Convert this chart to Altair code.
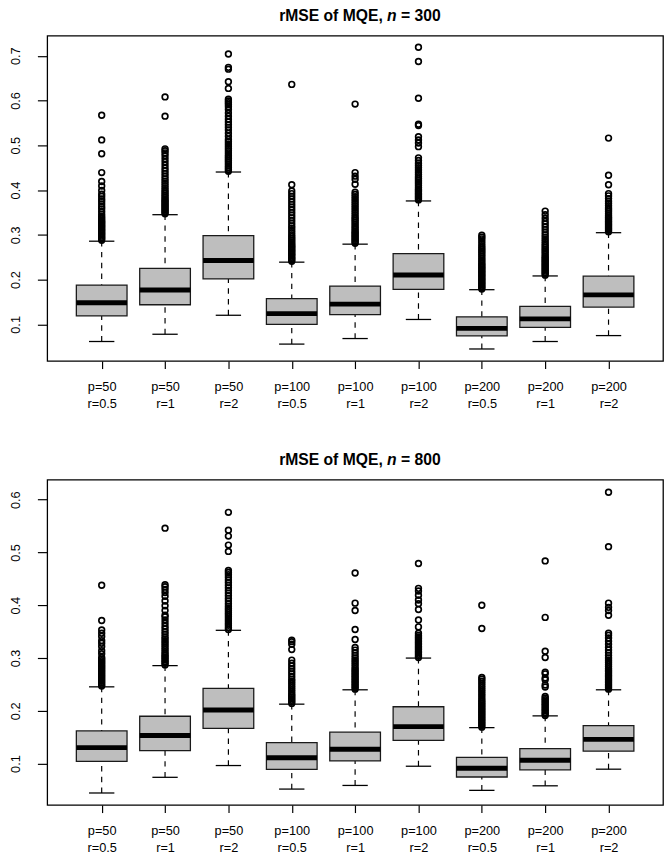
import altair as alt
import pandas as pd

# ---------------- data ----------------
positions = [1, 2, 3, 4, 5, 6, 7, 8, 9]
p_labels = ["p=50", "p=50", "p=50", "p=100", "p=100", "p=100", "p=200", "p=200", "p=200"]
r_labels = ["r=0.5", "r=1", "r=2", "r=0.5", "r=1", "r=2", "r=0.5", "r=1", "r=2"]

# n = 300 panel: whisker low, Q1, median, Q3, whisker high
n300_lo = [0.0618, 0.0780, 0.1204, 0.0560, 0.0684, 0.1110, 0.0451, 0.0618, 0.0750]
n300_q1 = [0.1189, 0.1439, 0.2016, 0.1000, 0.1220, 0.1782, 0.0743, 0.0934, 0.1387]
n300_med = [0.1483, 0.1768, 0.2427, 0.1241, 0.1453, 0.2104, 0.0912, 0.1123, 0.1659]
n300_q3 = [0.1878, 0.2251, 0.2982, 0.1577, 0.1856, 0.2580, 0.1168, 0.1402, 0.2076]
n300_hi = [0.2858, 0.3450, 0.4403, 0.2390, 0.2792, 0.3757, 0.1775, 0.2082, 0.3048]
n300_out = [
    [0.288, 0.291, 0.294, 0.297, 0.300, 0.303, 0.306, 0.309, 0.312, 0.315, 0.318, 0.321, 0.324,
     0.327, 0.330, 0.333, 0.337, 0.341, 0.346, 0.352, 0.358, 0.363, 0.369, 0.375, 0.380, 0.386,
     0.391, 0.399, 0.409, 0.419, 0.439, 0.481, 0.512, 0.567],
    [0.347, 0.350, 0.353, 0.356, 0.359, 0.362, 0.365, 0.368, 0.371, 0.374, 0.377, 0.380, 0.384,
     0.388, 0.392, 0.396, 0.400, 0.405, 0.410, 0.415, 0.420, 0.425, 0.431, 0.437, 0.443, 0.449,
     0.456, 0.463, 0.470, 0.477, 0.483, 0.488, 0.492, 0.565, 0.608],
    [0.442, 0.446, 0.450, 0.454, 0.458, 0.462, 0.466, 0.470, 0.474, 0.478, 0.483, 0.488, 0.493,
     0.498, 0.503, 0.508, 0.513, 0.520, 0.527, 0.534, 0.540, 0.546, 0.552, 0.558, 0.565, 0.572,
     0.580, 0.586, 0.591, 0.595, 0.599, 0.603, 0.627, 0.642, 0.670, 0.674, 0.704],
    [0.241, 0.244, 0.247, 0.250, 0.253, 0.256, 0.259, 0.262, 0.265, 0.268, 0.271, 0.274, 0.277,
     0.280, 0.284, 0.288, 0.292, 0.296, 0.300, 0.305, 0.310, 0.315, 0.320, 0.326, 0.332, 0.338,
     0.344, 0.350, 0.356, 0.362, 0.368, 0.374, 0.380, 0.386, 0.392, 0.398, 0.412, 0.636],
    [0.281, 0.284, 0.287, 0.290, 0.293, 0.296, 0.299, 0.302, 0.305, 0.308, 0.312, 0.316, 0.320,
     0.324, 0.328, 0.332, 0.336, 0.340, 0.345, 0.350, 0.355, 0.360, 0.365, 0.370, 0.375, 0.380,
     0.385, 0.390, 0.395, 0.413, 0.424, 0.431, 0.439, 0.592],
    [0.378, 0.381, 0.384, 0.387, 0.390, 0.393, 0.396, 0.399, 0.402, 0.406, 0.410, 0.414, 0.418,
     0.422, 0.426, 0.430, 0.435, 0.440, 0.445, 0.450, 0.455, 0.460, 0.466, 0.472, 0.497, 0.505,
     0.512, 0.519, 0.544, 0.547, 0.605, 0.687, 0.719],
    [0.179, 0.182, 0.185, 0.188, 0.191, 0.194, 0.197, 0.200, 0.203, 0.206, 0.209, 0.212, 0.215,
     0.218, 0.221, 0.224, 0.227, 0.230, 0.233, 0.236, 0.240, 0.244, 0.248, 0.252, 0.256, 0.260,
     0.264, 0.268, 0.272, 0.276, 0.281, 0.286, 0.291, 0.295, 0.299],
    [0.210, 0.213, 0.216, 0.219, 0.222, 0.225, 0.228, 0.231, 0.234, 0.237, 0.240, 0.243, 0.246,
     0.249, 0.252, 0.256, 0.260, 0.264, 0.268, 0.272, 0.276, 0.280, 0.285, 0.290, 0.295, 0.300,
     0.306, 0.312, 0.318, 0.324, 0.330, 0.337, 0.345, 0.353],
    [0.307, 0.310, 0.313, 0.316, 0.319, 0.322, 0.325, 0.328, 0.331, 0.334, 0.337, 0.340, 0.344,
     0.348, 0.352, 0.356, 0.360, 0.365, 0.370, 0.375, 0.381, 0.387, 0.392, 0.412, 0.433, 0.516],
]

# n = 800 panel
n800_lo = [0.0443, 0.0740, 0.0963, 0.0517, 0.0586, 0.0950, 0.0493, 0.0579, 0.0894]
n800_q1 = [0.1043, 0.1247, 0.1668, 0.0889, 0.1050, 0.1439, 0.0746, 0.0883, 0.1236]
n800_med = [0.1303, 0.1533, 0.2015, 0.1111, 0.1272, 0.1700, 0.0913, 0.1062, 0.1458]
n800_q3 = [0.1618, 0.1897, 0.2424, 0.1396, 0.1594, 0.2077, 0.1118, 0.1284, 0.1718]
n800_hi = [0.2454, 0.2856, 0.3525, 0.2126, 0.2398, 0.2999, 0.1681, 0.1904, 0.2398]
n800_out = [
    [0.247, 0.250, 0.253, 0.256, 0.259, 0.262, 0.265, 0.268, 0.271, 0.274, 0.277, 0.280, 0.283,
     0.286, 0.289, 0.292, 0.295, 0.298, 0.301, 0.308, 0.314, 0.322, 0.328, 0.333, 0.341, 0.347,
     0.353, 0.371, 0.438],
    [0.287, 0.290, 0.293, 0.296, 0.299, 0.302, 0.305, 0.308, 0.312, 0.316, 0.320, 0.324, 0.328,
     0.332, 0.336, 0.340, 0.345, 0.350, 0.355, 0.360, 0.366, 0.372, 0.378, 0.381, 0.390, 0.399,
     0.408, 0.417, 0.424, 0.430, 0.435, 0.439, 0.546],
    [0.354, 0.358, 0.362, 0.366, 0.370, 0.374, 0.378, 0.382, 0.386, 0.390, 0.394, 0.398, 0.403,
     0.408, 0.413, 0.418, 0.423, 0.428, 0.433, 0.438, 0.443, 0.448, 0.453, 0.458, 0.462, 0.466,
     0.502, 0.514, 0.531, 0.542, 0.576],
    [0.214, 0.217, 0.220, 0.223, 0.226, 0.229, 0.232, 0.236, 0.240, 0.244, 0.248, 0.252, 0.256,
     0.260, 0.265, 0.270, 0.275, 0.280, 0.285, 0.290, 0.296, 0.316, 0.326, 0.331, 0.334],
    [0.241, 0.244, 0.247, 0.250, 0.253, 0.256, 0.259, 0.262, 0.265, 0.268, 0.271, 0.274, 0.277,
     0.280, 0.284, 0.288, 0.292, 0.296, 0.300, 0.305, 0.310, 0.315, 0.320, 0.335, 0.354, 0.390,
     0.404, 0.461],
    [0.301, 0.304, 0.307, 0.310, 0.313, 0.316, 0.319, 0.322, 0.325, 0.328, 0.331, 0.334, 0.337,
     0.340, 0.343, 0.347, 0.359, 0.372, 0.392, 0.403, 0.410, 0.419, 0.427, 0.432, 0.479],
    [0.169, 0.172, 0.175, 0.178, 0.181, 0.184, 0.187, 0.190, 0.193, 0.196, 0.199, 0.202, 0.205,
     0.208, 0.211, 0.214, 0.217, 0.220, 0.224, 0.228, 0.232, 0.236, 0.240, 0.244, 0.248, 0.252,
     0.256, 0.260, 0.263, 0.356, 0.400],
    [0.191, 0.194, 0.197, 0.200, 0.203, 0.206, 0.209, 0.212, 0.215, 0.218, 0.221, 0.224, 0.227,
     0.245, 0.249, 0.259, 0.262, 0.270, 0.273, 0.301, 0.313, 0.377, 0.484],
    [0.241, 0.244, 0.247, 0.250, 0.253, 0.256, 0.259, 0.262, 0.265, 0.268, 0.271, 0.274, 0.277,
     0.280, 0.284, 0.288, 0.292, 0.296, 0.300, 0.305, 0.310, 0.315, 0.320, 0.326, 0.332, 0.338,
     0.343, 0.347, 0.381, 0.390, 0.396, 0.404, 0.511, 0.614],
]

title_prefix = "rMSE of MQE,"
title_var = "n"
n_values = ["300", "800"]

y_ticks_300 = [0.1, 0.2, 0.3, 0.4, 0.5, 0.6, 0.7]
y_ticks_800 = [0.1, 0.2, 0.3, 0.4, 0.5, 0.6]

# ---------------- chart ----------------
FONT = "Liberation Sans"
W, H = 628.3, 332

label_expr = (
    "[" + ",".join("['%s','%s']" % (p, r) for p, r in zip(p_labels, r_labels)) + "]"
    + "[round(datum.value) - 1]"
)


def panel(lo, q1, med, q3, hi, outs, y_domain, y_ticks, nval):
    stats = pd.DataFrame({"pos": positions, "lo": lo, "q1": q1, "med": med, "q3": q3, "hi": hi})
    out_df = pd.DataFrame(
        [{"pos": positions[i], "v": v} for i, vs in enumerate(outs) for v in vs]
    )
    xs = alt.Scale(domain=[0.14, 9.86], nice=False, zero=False)
    ys = alt.Scale(domain=y_domain, nice=False, zero=False)
    x_axis = alt.Axis(
        values=positions, labelExpr=label_expr, tickSize=7.7, labelPadding=12,
        labelLineHeight=18, labelFontSize=13, labelFont=FONT, labelColor="black",
        tickColor="black", tickWidth=1.2, domain=False, grid=False,
        labelOverlap=False, labelFlush=False, labelBaseline="top", title=None,
    )
    y_axis = alt.Axis(
        values=y_ticks, format=".1f", labelAngle=270, labelAlign="center",
        labelBaseline="bottom", tickSize=10, labelPadding=15.7, labelFontSize=13,
        labelFont=FONT, labelColor="black", tickColor="black", tickWidth=1.2,
        domain=False, grid=False, labelOverlap=False, labelFlush=False, title=None,
    )

    def X(f):
        return alt.X(f, scale=xs, axis=x_axis)

    def Y(f):
        return alt.Y(f, scale=ys, axis=y_axis)

    base = alt.Chart(stats).transform_calculate(
        bl="datum.pos - 0.4", br="datum.pos + 0.4",
        cl="datum.pos - 0.2", cr="datum.pos + 0.2",
    )
    dash = [5.5, 5.5]
    up = base.mark_rule(color="black", strokeWidth=1.2, strokeDash=dash).encode(
        x=X("pos:Q"), y=Y("hi:Q"), y2="q3:Q",
    )
    down = base.mark_rule(color="black", strokeWidth=1.2, strokeDash=dash).encode(
        x=X("pos:Q"), y=Y("lo:Q"), y2="q1:Q",
    )
    cap_hi = base.mark_rule(color="black", strokeWidth=1.3).encode(
        x=X("cl:Q"), x2="cr:Q", y=Y("hi:Q"),
    )
    cap_lo = base.mark_rule(color="black", strokeWidth=1.3).encode(
        x=X("cl:Q"), x2="cr:Q", y=Y("lo:Q"),
    )
    box = base.mark_rect(fill="#BEBEBE", stroke="#1a1a1a", strokeWidth=1.3).encode(
        x=X("bl:Q"), x2="br:Q", y=Y("q1:Q"), y2="q3:Q",
    )
    median = base.mark_rule(color="black", strokeWidth=5, strokeCap="butt").encode(
        x=X("bl:Q"), x2="br:Q", y=Y("med:Q"),
    )
    pts = alt.Chart(out_df).mark_point(
        shape="circle", filled=False, size=34, strokeWidth=1.7, color="black", opacity=1
    ).encode(x=X("pos:Q"), y=Y("v:Q"))
    tdf = pd.DataFrame({"a": [0]})
    fs = 16
    x_n = 346.8
    sp = 0.278 * fs
    ty = -27.5
    tstyle = dict(baseline="top", font=FONT, fontWeight="bold", fontSize=fs, color="black")
    t1 = alt.Chart(tdf).mark_text(text=title_prefix, align="right", **tstyle).encode(
        x=alt.value(x_n - sp), y=alt.value(ty))
    t2 = alt.Chart(tdf).mark_text(text=title_var, align="left", fontStyle="italic", **tstyle).encode(
        x=alt.value(x_n), y=alt.value(ty))
    t3 = alt.Chart(tdf).mark_text(text="= " + nval, align="left", **tstyle).encode(
        x=alt.value(x_n + 0.611 * fs + sp), y=alt.value(ty))
    return alt.layer(up, down, box, cap_hi, cap_lo, median, pts, t1, t2, t3).properties(
        width=W, height=H
    )


top = panel(n300_lo, n300_q1, n300_med, n300_q3, n300_hi, n300_out,
            [0.0182, 0.7449], y_ticks_300, n_values[0])
bottom = panel(n800_lo, n800_q1, n800_med, n800_q3, n800_hi, n800_out,
               [0.0215, 0.638], y_ticks_800, n_values[1])

chart = (
    alt.vconcat(top, bottom, spacing=121, bounds="flush")
    .properties(padding={"left": 0, "top": -9.5, "right": 0, "bottom": 0})
    .configure_view(stroke="black", strokeWidth=1.3)
)

chart.save("out.html", embed_options={"renderer": "svg", "actions": False})
